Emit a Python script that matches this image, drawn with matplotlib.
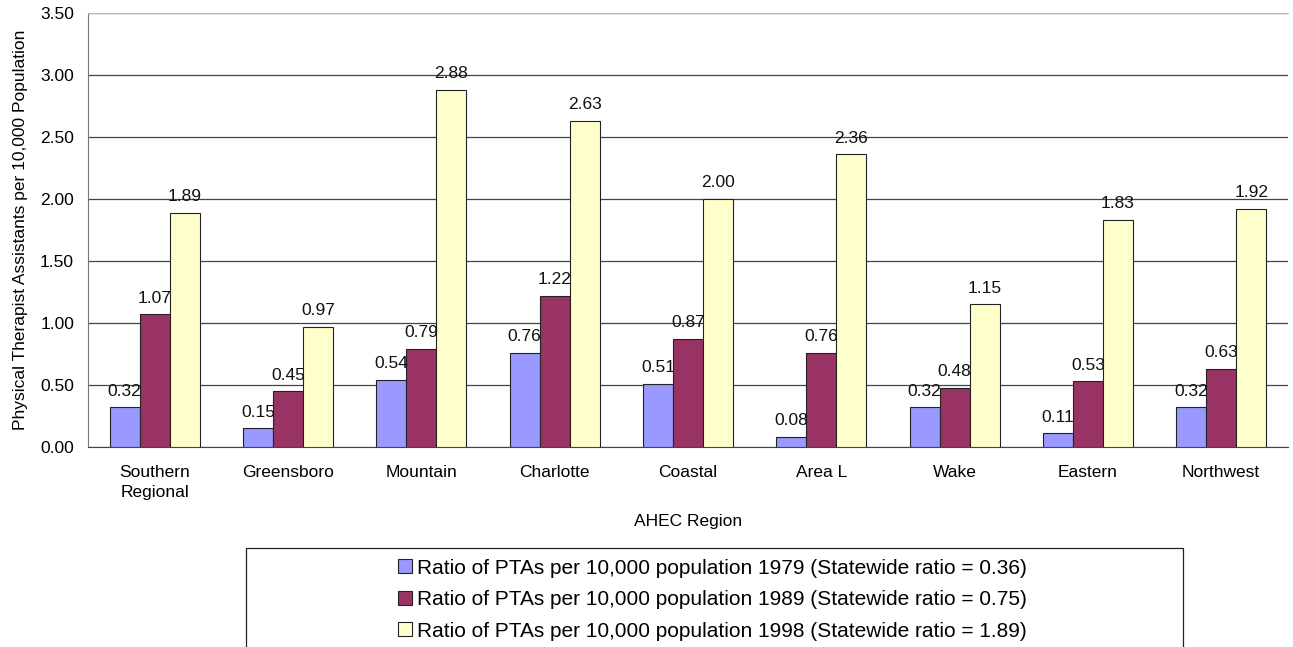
import numpy as np
import matplotlib
matplotlib.use("Agg")
import matplotlib.pyplot as plt
from matplotlib.patches import Rectangle

plt.rcParams['font.family'] = ['Liberation Sans', 'DejaVu Sans']

regions = ["Southern\nRegional", "Greensboro", "Mountain", "Charlotte", "Coastal",
           "Area L", "Wake", "Eastern", "Northwest"]
ratio_1979 = [0.32, 0.15, 0.54, 0.76, 0.51, 0.08, 0.32, 0.11, 0.32]
ratio_1989 = [1.07, 0.45, 0.79, 1.22, 0.87, 0.76, 0.48, 0.53, 0.63]
ratio_1998 = [1.89, 0.97, 2.88, 2.63, 2.00, 2.36, 1.15, 1.83, 1.92]
series_labels = [
    "Ratio of PTAs per 10,000 population 1979 (Statewide ratio = 0.36)",
    "Ratio of PTAs per 10,000 population 1989 (Statewide ratio = 0.75)",
    "Ratio of PTAs per 10,000 population 1998 (Statewide ratio = 1.89)",
]
colors = ["#9999FF", "#993366", "#FFFFCC"]

fig = plt.figure(figsize=(12.93, 6.47), dpi=100)
ax = fig.add_axes([0.068, 0.309, 0.928, 0.671])

fs = 12.5
x = np.arange(len(regions))
w = 0.225
bars = []
for i, (vals, c, lab) in enumerate(zip([ratio_1979, ratio_1989, ratio_1998], colors, series_labels)):
    b = ax.bar(x + (i - 1) * w, vals, w, color=c, edgecolor="#222222", linewidth=0.8,
               label=lab, zorder=3)
    bars.append(b)
    for rect, v in zip(b, vals):
        ax.text(rect.get_x() + rect.get_width() / 2, v + 0.07, f"{v:.2f}",
                ha="center", va="bottom", fontsize=fs, color="#111111", zorder=4)

ax.set_xlim(-0.5, len(regions) - 0.5)
ax.set_ylim(0, 3.5)
yt = np.arange(0, 3.51, 0.5)
ax.set_yticks(yt)
ax.set_yticklabels([f"{t:.2f}" for t in yt], fontsize=fs)
ax.set_xticks(x)
ax.set_xticklabels(regions, fontsize=fs, linespacing=1.4)
ax.tick_params(axis="x", length=0, pad=13)
ax.tick_params(axis="y", length=0, pad=10)
ax.yaxis.grid(True, color="#444444", linewidth=0.9, zorder=0)
ax.spines["right"].set_visible(False)
ax.spines["top"].set_color("#bbbbbb")
ax.spines["left"].set_color("#777777")
ax.spines["bottom"].set_color("#444444")

ax.set_xlabel("AHEC Region", fontsize=fs, labelpad=10)
ax.set_ylabel("Physical Therapist Assistants per 10,000 Population", fontsize=fs, labelpad=9)

# legend inside a wide box below the chart
box = Rectangle((246 / 1293, -0.01), (1183 - 246) / 1293, (647 - 548) / 647 + 0.01,
                transform=fig.transFigure, facecolor="white", edgecolor="#222222",
                linewidth=0.9)
fig.patches.append(box)
fig.legend(handles=bars, labels=series_labels, loc="center", bbox_to_anchor=(0.551, 0.073),
           frameon=False, fontsize=15, handlelength=0.65, handleheight=0.65,
           handletextpad=0.25, labelspacing=0.6, borderpad=0)

fig.savefig("out.png", dpi=100)
